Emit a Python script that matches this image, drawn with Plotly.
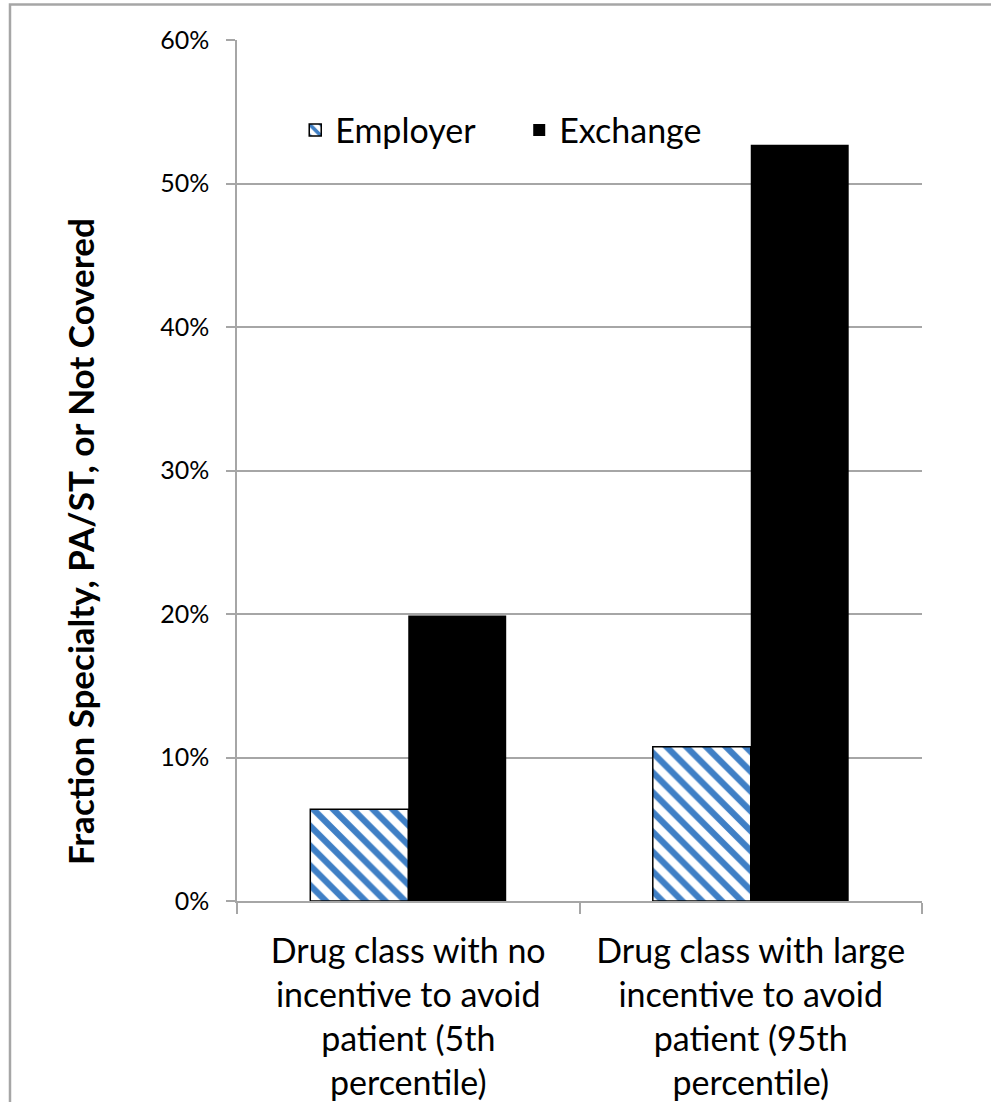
import plotly.graph_objects as go

categories = [
    "Drug class with no<br>incentive to avoid<br>patient (5th<br>percentile)",
    "Drug class with large<br>incentive to avoid<br>patient (95th<br>percentile)",
]
employer = [0.064, 0.1075]
exchange = [0.199, 0.527]
y_title = "Fraction Specialty, PA/ST, or Not Covered"

FONT = "Lato, 'Open Sans', sans-serif"
GRID = "#a6a6a6"

fig = go.Figure()
fig.add_trace(go.Bar(
    name="Employer", x=categories, y=employer,
    marker=dict(color="white", line=dict(color="black", width=1.5),
                pattern=dict(shape="\\", fgcolor="#3f7fc5", bgcolor="white",
                             fgopacity=1, fillmode="replace",
                             size=14, solidity=0.45)),
))
fig.add_trace(go.Bar(
    name="Exchange", x=categories, y=exchange,
    marker=dict(color="black", line=dict(color="black", width=0)),
))

fig.update_layout(
    width=991, height=1102,
    margin=dict(l=237, r=69, t=40, b=201, autoexpand=False),
    paper_bgcolor="white", plot_bgcolor="white",
    barmode="group", bargap=0.428, bargroupgap=0,
    font=dict(family=FONT, color="black"),
    showlegend=True,
    legend=dict(orientation="h", x=0.085, y=0.895, xanchor="left", yanchor="middle",
                font=dict(size=34, family=FONT), bgcolor="rgba(0,0,0,0)",
                entrywidth=179, entrywidthmode="pixels", traceorder="normal"),
    xaxis=dict(showline=True, linecolor=GRID, linewidth=1.5, ticks="outside",
               tickson="boundaries", ticklen=11, tickcolor=GRID, tickwidth=1.5,
               tickfont=dict(size=34, family=FONT), showgrid=False,
               ticklabelstandoff=19, automargin=False),
    yaxis=dict(range=[0, 0.6], dtick=0.1, tickformat=".0%", showline=True,
               linecolor=GRID, linewidth=1.5, ticks="outside", ticklen=9,
               tickcolor=GRID, tickwidth=1.5, gridcolor=GRID, gridwidth=1.5,
               tickfont=dict(size=25, family=FONT), zeroline=False,
               ticklabelstandoff=12, automargin=False),
    annotations=[dict(text="<b>%s</b>" % y_title, xref="paper", yref="paper",
                      x=-0.229, y=0.417, xanchor="center", yanchor="middle",
                      textangle=-90, showarrow=False,
                      font=dict(size=35, family=FONT, color="black"))],
    shapes=[dict(type="rect", xref="paper", yref="paper",
                 x0=-0.3314, x1=1.12, y0=-0.3, y1=1.0412,
                 line=dict(color="#a6a6a6", width=2.5), layer="below")],
)

fig.write_html("out.html")
